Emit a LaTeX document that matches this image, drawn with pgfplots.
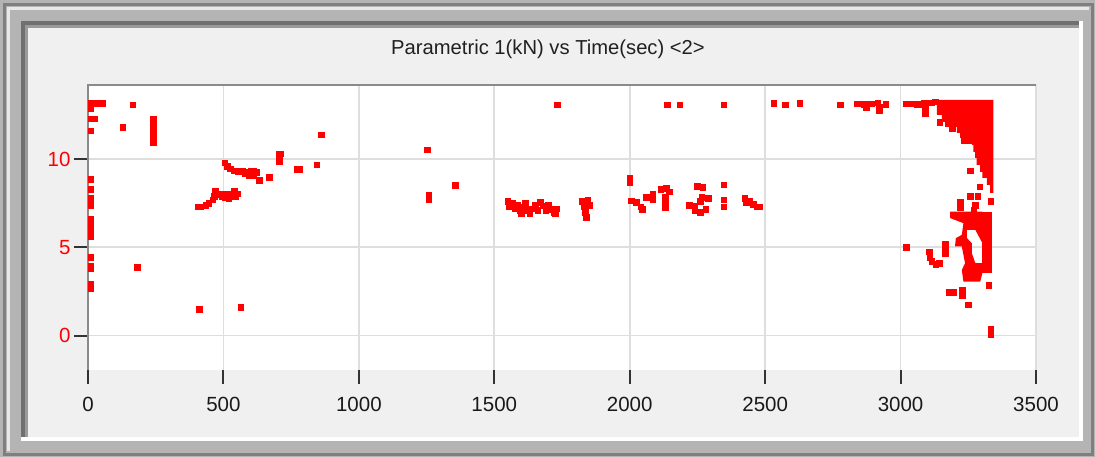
\documentclass[border=0pt]{standalone}
\usepackage{fontspec}
\setmainfont{Liberation Sans}
\usepackage{pgfplots}
\pgfplotsset{compat=1.18}
\definecolor{outerc}{HTML}{B4B4B4}
\definecolor{darkedge}{HTML}{7F7F7F}
\definecolor{lightedge}{HTML}{E8E8E8}
\definecolor{dk1}{HTML}{707070}
\definecolor{dk2}{HTML}{9A9A9A}
\definecolor{panel}{HTML}{F0F0F0}
\definecolor{gridc}{HTML}{DEDEDE}
\definecolor{tickc}{HTML}{333333}
\definecolor{axisc}{HTML}{8A8A8A}
\definecolor{titlec}{HTML}{202020}
\definecolor{ptred}{HTML}{FF0000}
\begin{document}
\begin{tikzpicture}
\begin{scope}[x=1bp,y=-1bp]
\useasboundingbox (0,0) rectangle (1095,457);
\fill[outerc] (0,0) rectangle (1095,457);
\draw[darkedge, line width=3bp] (4.5,4.5) rectangle (1092.5,454.5);
\draw[lightedge, line width=3bp] (8.5,451) -- (8.5,8.5) -- (1089,8.5);
\fill[white] (21,21) rectangle (1083,441);
\fill[dk1] (21,21) rectangle (1079,437);
\fill[dk2] (25,25) rectangle (1079,437);
\fill[panel] (28,28) rectangle (1079,437);
\node[font=\fontsize{20.2bp}{24bp}\selectfont, text=titlec] at (548,49) {Parametric 1(kN) vs Time(sec) <2>};
\end{scope}
\begin{axis}[
  at={(88bp,-370bp)}, anchor=south west,
  scale only axis, width=948bp, height=285bp,
  xmin=0, xmax=3500, ymin=-1.95, ymax=14.2,
  xtick={0,500,...,3500}, ytick={0,5,10},
  grid=major, grid style={color=gridc, line width=1.8bp},
  axis background/.style={fill=white},
  axis line style={draw=none},
  tick align=outside, major tick length=14bp,
  tick style={color=tickc, line width=2bp},
  xtick pos=bottom, ytick pos=left,
  ticklabel style={font=\fontsize{20.5bp}{24bp}\selectfont},
  xticklabel style={text=black!90, yshift=-10bp},
  yticklabel style={text=ptred},
  /pgf/number format/assume math mode=true,
  /pgf/number format/1000 sep={},
  clip=false,
]
% dense areas near the end of the run
\addplot[fill=ptred, draw=none] coordinates {
(3134,13.36)(3343,13.36)(3343,8.09)(3331,8.09)(3331,8.54)(3319,8.54)(3319,8.94)(3302,8.94)(3302,9.28)(3294,9.28)(3294,9.68)(3281,9.68)(3281,10.07)(3275,10.07)(3275,10.41)(3269,10.41)(3269,10.81)(3263,10.81)(3263,11.21)(3220,11.21)(3220,11.49)(3208,11.49)(3208,11.83)(3164,11.83)(3164,12.11)(3152,12.11)(3152,12.51)(3134,12.51)
} -- cycle;
\addplot[fill=ptred, draw=none] coordinates {
(3183,7.03)(3302,7.03)(3302,5.24)(3276,5.99)(3245,5.99)(3245,5.52)(3263,5.24)(3263,4.67)(3276,4.10)(3302,4.10)(3302,3.54)(3294,3.06)(3232,3.06)(3226,3.72)(3238,4.10)(3226,5.05)(3201,5.05)(3204,5.52)(3226,5.71)(3232,6.37)(3183,6.66)
} -- cycle;
\addplot[fill=ptred, draw=none] coordinates {
(3302,7.03)(3339,7.03)(3339,3.54)(3302,3.54)
} -- cycle;
\addplot[only marks, color=ptred, mark=square*, mark size=2.8bp] table {
x y
10 13.18
25 13.18
40 13.18
52 13.18
10 12.89
10 12.3
24 12.3
10 11.62
128 11.82
165 13.09
240 12.25
240 12.0
240 11.75
240 11.5
240 11.25
240 11.0
240 10.92
10 8.87
10 8.3
10 7.8
10 7.6
10 7.4
10 6.58
10 6.3
10 6.0
10 5.8
10 5.6
10 4.43
10 3.97
10 3.8
10 2.95
10 2.66
181 3.88
410 1.5
564 1.6
405 7.3
415 7.3
435 7.4
445 7.5
460 7.7
465 7.9
470 8.2
485 8.0
498 8.05
495 7.9
505 7.85
515 8.0
525 7.9
535 8.0
545 7.9
540 8.2
520 7.75
550 8.05
505 9.8
515 9.6
525 9.45
540 9.35
555 9.3
570 9.3
580 9.2
590 9.25
600 9.35
610 9.3
620 9.25
595 9.1
612 9.1
632 8.8
669 8.98
706 10.3
712 10.3
706 10.05
706 9.85
770 9.43
782 9.43
845 9.68
861 11.38
1252 10.53
1258 7.95
1258 7.7
1356 8.52
1733 13.08
1550 7.6
1555 7.3
1565 7.5
1575 7.2
1585 7.4
1595 7.1
1605 7.3
1615 7.5
1620 7.1
1630 6.95
1640 7.2
1650 7.4
1660 7.1
1670 7.55
1680 7.35
1690 7.1
1700 7.4
1710 7.15
1720 7.0
1730 7.2
1725 6.9
1600 6.95
1825 7.6
1845 7.7
1830 7.3
1850 7.4
1835 7.0
1840 6.7
2000 8.95
2000 8.7
2005 7.65
2025 7.55
2040 7.3
2045 7.15
2060 7.85
2085 8.0
2085 7.7
2115 8.3
2135 8.35
2145 8.15
2130 7.85
2130 7.55
2130 7.25
2250 8.45
2270 8.4
2265 7.85
2290 7.8
2260 7.6
2220 7.4
2240 7.35
2240 7.1
2260 7.0
2280 7.15
2347 8.54
2347 7.7
2347 7.3
2425 7.8
2440 7.6
2430 7.55
2455 7.45
2470 7.3
2480 7.3
2138 13.08
2185 13.08
2347 13.08
2532 13.17
2575 13.08
2628 13.17
2776 13.08
2840 13.15
2853 13.15
2866 13.1
2872 12.92
2880 13.15
2893 13.15
2915 13.2
2920 12.95
2922 12.75
2945 13.1
3020 13.15
3033 13.15
3046 13.15
3060 13.1
3072 13.1
3085 13.2
3100 13.2
3115 13.2
3128 13.25
3090 12.9
3090 12.6
3145 12.1
3190 11.75
3235 11.05
3255 11.05
3258 9.35
3292 8.43
3333 7.63
3258 7.9
3285 7.9
3275 7.4
3270 7.1
3220 7.55
3220 7.25
3020 5.0
3105 4.75
3108 4.45
3115 4.2
3130 4.05
3143 4.1
3165 5.2
3165 4.9
3165 4.65
3180 2.45
3196 2.45
3228 2.6
3228 2.25
3250 1.75
3325 2.85
3332 0.4
3332 0.05
};
\draw[axisc, line width=2bp] (rel axis cs:0,0) -- (rel axis cs:0,1) -- (rel axis cs:1,1);
\end{axis}
\end{tikzpicture}
\end{document}
